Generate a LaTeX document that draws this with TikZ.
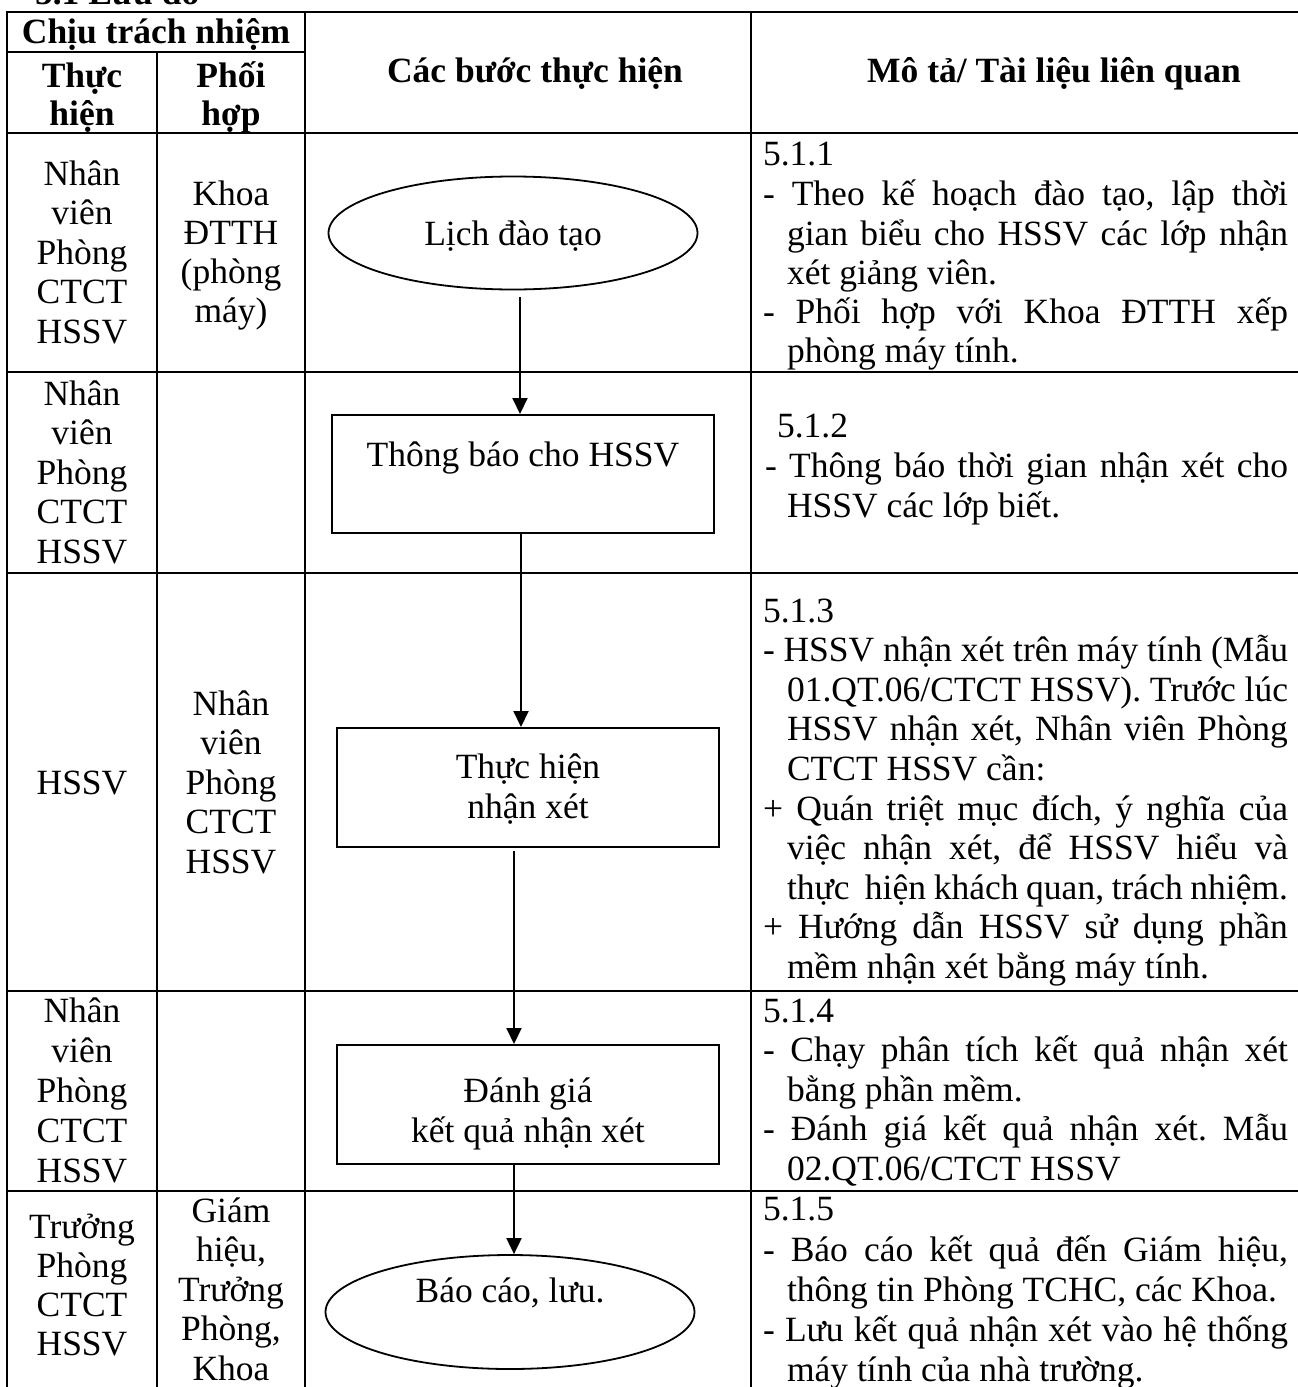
\documentclass[tikz,border=0pt]{standalone}
\usepackage{fontspec}
\setmainfont{Liberation Serif}
\usetikzlibrary{shapes.geometric,arrows.meta,calc}
\frenchspacing
\newcommand{\jA}[1]{\makebox[525pt][s]{#1}}
\newcommand{\jB}[1]{\makebox[501pt][s]{#1}}
\newcommand{\cellstack}[5]{\foreach \ctext [count=\ci] in {#5} {\node[txt,anchor=base] (#1-\ci) at ({#2},{#3+#4*(\ci-1)}) {\ctext};}}
\newcommand{\dline}[4]{\node[txt,anchor=base west] (#1) at (#2,#3) {#4};}
\begin{document}
\begin{tikzpicture}[x=1pt,y=-1pt,
  font=\fontsize{35.5}{40}\selectfont\frenchspacing,
  txt/.style={inner sep=0pt,outer sep=0pt},
  hdr/.style={txt,font=\fontsize{35.5}{40}\selectfont\bfseries},
  gridline/.style={line width=2.6pt,line cap=rect},
  flowbox/.style={draw,line width=2pt,rectangle,minimum width=382pt,minimum height=119pt,inner sep=0pt},
  flowell/.style={draw,line width=1.8pt,ellipse,minimum width=369pt,minimum height=113pt,inner sep=0pt},
  arr/.style={line width=2pt,-{Triangle[width=15pt,length=16pt]}}]
\useasboundingbox (0,0) rectangle (1298,1387);
\begin{scope}
\clip (0,0) rectangle (1298,1387);
% partially visible heading
\node[hdr,anchor=base west] (title) at (35,4) {5.1 Lưu đồ};
% table grid
\draw[gridline] (7,12) -- (1302,12);
\draw[gridline] (7,52) -- (305,52);
\foreach \yy in {133,372,573,991,1191} \draw[gridline] (7,\yy) -- (1302,\yy);
\draw[gridline] (7,12) -- (7,1392);
\draw[gridline] (157,52) -- (157,1392);
\draw[gridline] (305,12) -- (305,1392);
\draw[gridline] (751,12) -- (751,1392);
% header
\node[hdr,anchor=base] (h1) at (156,43) {Chịu trách nhiệm};
\node[hdr,anchor=base] (h2) at (82,87) {Thực};
\node[hdr,anchor=base] (h3) at (82,125) {hiện};
\node[hdr,anchor=base] (h4) at (231,87) {Phối};
\node[hdr,anchor=base] (h5) at (231,125) {hợp};
\node[hdr,anchor=base] (h6) at (535,82) {Các bước thực hiện};
\node[hdr,anchor=base] (h7) at (1054,82) {Mô tả/ Tài liệu liên quan};
% left columns
\cellstack{r1a}{82}{185}{39.6}{{Nhân},{viên},{Phòng},{CTCT},{HSSV}}
\cellstack{r1b}{231}{205}{39.2}{{Khoa},{ĐTTH},{(phòng},{máy)}}
\cellstack{r2a}{82}{405}{39.6}{{Nhân},{viên},{Phòng},{CTCT},{HSSV}}
\cellstack{r3a}{82}{794}{40}{{HSSV}}
\cellstack{r3b}{231}{715}{39.6}{{Nhân},{viên},{Phòng},{CTCT},{HSSV}}
\cellstack{r4a}{82}{1022}{40}{{Nhân},{viên},{Phòng},{CTCT},{HSSV}}
\cellstack{r5a}{82}{1238}{39}{{Trưởng},{Phòng},{CTCT},{HSSV}}
\cellstack{r5b}{231}{1222}{39.5}{{Giám},{hiệu,},{Trưởng},{Phòng,},{Khoa}}
% flow chart
\node[flowell] (e1) at (513,233) {};
\node[txt,anchor=base] (e1t) at ([yshift=-12pt]e1.center) {Lịch đào tạo};
\node[flowbox,minimum height=118pt] (b2) at (523,474) {};
\node[txt,anchor=base] (b2t) at ([yshift=8pt]b2.center) {Thông báo cho HSSV};
\node[flowbox] (b3) at (528,787.5) {};
\node[txt,anchor=base] (b3t1) at ([yshift=9.5pt]b3.center) {Thực hiện};
\node[txt,anchor=base] (b3t2) at ([yshift=-30.5pt]b3.center) {nhận xét};
\node[flowbox] (b4) at (528,1104.5) {};
\node[txt,anchor=base] (b4t1) at ([yshift=2.5pt]b4.center) {Đánh giá};
\node[txt,anchor=base] (b4t2) at ([yshift=-37.5pt]b4.center) {kết quả nhận xét};
\node[flowell,minimum height=114pt] (e5) at (510,1312) {};
\node[txt,anchor=base] (e5t) at ([yshift=10pt]e5.center) {Báo cáo, lưu.};
\draw[arr] ($(e1.south)+(7,7)$) -- ($(b2.north)+(-3,0)$);
\draw[arr] ($(b2.south)+(-2,0)$) -- ($(b3.north)+(-7,0)$);
\draw[arr] ($(b3.south)+(-14,3)$) -- ($(b4.north)+(-14,0)$);
\draw[arr] ($(b4.south)+(-14,0)$) -- ($(e5.north)+(4,0)$);
% description column
\dline{d1a}{763}{165}{5.1.1}
\dline{d1b}{763}{205}{\jA{- Theo kế hoạch đào tạo, lập thời}}
\dline{d1c}{787}{245}{\jB{gian biểu cho HSSV các lớp nhận}}
\dline{d1d}{787}{284}{xét giảng viên.}
\dline{d1e}{763}{323}{\jA{- Phối hợp với Khoa ĐTTH xếp}}
\dline{d1f}{787}{362}{phòng máy tính.}
\dline{d2a}{777}{437}{5.1.2}
\dline{d2b}{765}{477}{\makebox[523pt][s]{- Thông báo thời gian nhận xét cho}}
\dline{d2c}{787}{517}{HSSV các lớp biết.}
\dline{d3a}{763}{622}{5.1.3}
\dline{d3b}{763}{661.6}{\jA{- HSSV nhận xét trên máy tính (Mẫu}}
\dline{d3c}{787}{701.2}{\jB{01.QT.06/CTCT HSSV). Trước lúc}}
\dline{d3d}{787}{740.8}{\jB{HSSV nhận xét, Nhân viên Phòng}}
\dline{d3e}{787}{780.4}{CTCT HSSV cần:}
\dline{d3f}{763}{820}{\jA{+ Quán triệt mục đích, ý nghĩa của}}
\dline{d3g}{787}{859.6}{\jB{việc nhận xét, để HSSV hiểu và}}
\dline{d3h}{787}{899.2}{\jB{thực\ \ hiện khách quan, trách nhiệm.}}
\dline{d3i}{763}{938.8}{\jA{+ Hướng dẫn HSSV sử dụng phần}}
\dline{d3j}{787}{978.4}{mềm nhận xét bằng máy tính.}
\dline{d4a}{763}{1022}{5.1.4}
\dline{d4b}{763}{1061.5}{\jA{- Chạy phân tích kết quả nhận xét}}
\dline{d4c}{787}{1101}{bằng phần mềm.}
\dline{d4d}{763}{1140.5}{\jA{- Đánh giá kết quả nhận xét. Mẫu}}
\dline{d4e}{787}{1180}{02.QT.06/CTCT HSSV}
\dline{d5a}{763}{1220}{5.1.5}
\dline{d5b}{763}{1261}{\jA{- Báo cáo kết quả đến Giám hiệu,}}
\dline{d5c}{787}{1301}{thông tin Phòng TCHC, các Khoa.}
\dline{d5d}{763}{1341}{\jA{- Lưu kết quả nhận xét vào hệ thống}}
\dline{d5e}{787}{1381}{máy tính của nhà trường.}
\end{scope}
\end{tikzpicture}
\end{document}
